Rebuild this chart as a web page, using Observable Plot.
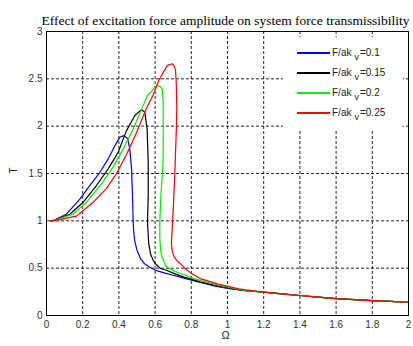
<!DOCTYPE html>
<html><head><meta charset="utf-8">
<script src="https://cdn.jsdelivr.net/npm/d3@7"></script>
<script src="https://cdn.jsdelivr.net/npm/@observablehq/plot@0.6"></script>
<style>
body{margin:0;background:#fff;}
#wrap{position:relative;width:413px;height:346px;}
#legend{position:absolute;left:283px;top:37px;width:120px;height:93px;background:#fff;font-family:"Liberation Sans",Arial,sans-serif;font-size:10px;color:#222;}
.ln{position:absolute;left:14px;width:33px;height:2px;}
.tx{position:absolute;left:49px;line-height:12px;white-space:nowrap;}
.sb{position:relative;top:4px;font-size:9px;margin:0 1px 0 3px;}
</style>
</head><body>
<div id="wrap"></div>
<script>
const title = "Effect of excitation force amplitude on system force transmissibility";
const xLabel = "Ω";
const yLabel = "T";
const xTicks = [0,0.2,0.4,0.6,0.8,1,1.2,1.4,1.6,1.8,2];
const yTicks = [0,0.5,1,1.5,2,2.5,3];
const seriesValues = ["0.1","0.15","0.2","0.25"];
const seriesColors = ["#0000ff","#000000","#00ee00","#ff0000"];

// common tail (all series merge)
const tailOmega = [1.2,1.3,1.4,1.5,1.6,1.7,1.8,1.9,2.0];
const tailT     = [0.246,0.228,0.211,0.194,0.178,0.167,0.158,0.149,0.14];

const omega01 = [0.02,0.037,0.11,0.184,0.239,0.295,0.341,0.378,0.405,0.427,0.448,0.46,0.47,0.475,0.479,0.482,0.488,0.50,0.52,0.54,0.57,0.60,0.65,0.70,0.78,0.85,0.92,1.0,1.1];
const T01     = [1.0,1.003,1.07,1.23,1.373,1.513,1.654,1.795,1.883,1.90,1.873,1.76,1.549,1.27,0.985,0.88,0.78,0.69,0.60,0.55,0.51,0.48,0.45,0.425,0.385,0.35,0.315,0.285,0.262];

const omega015 = [0.02,0.04,0.129,0.203,0.276,0.341,0.396,0.442,0.488,0.525,0.543,0.556,0.562,0.562,0.558,0.562,0.565,0.575,0.59,0.602,0.63,0.667,0.71,0.759,0.85,0.95,1.05,1.1];
const T015     = [1.0,1.005,1.07,1.197,1.373,1.549,1.725,1.953,2.112,2.175,2.147,1.97,1.62,1.27,0.985,0.85,0.757,0.65,0.58,0.546,0.497,0.475,0.44,0.405,0.355,0.31,0.275,0.262];

const omega02 = [0.02,0.04,0.147,0.221,0.304,0.368,0.424,0.479,0.534,0.556,0.575,0.595,0.611,0.627,0.639,0.645,0.645,0.644,0.638,0.632,0.626,0.626,0.63,0.635,0.648,0.657,0.685,0.722,0.76,0.814,0.88,0.95,1.05,1.1];
const T02     = [1.0,1.005,1.07,1.197,1.39,1.567,1.76,1.97,2.217,2.32,2.36,2.40,2.43,2.42,2.39,2.27,1.92,1.62,1.45,1.27,0.985,0.827,0.70,0.63,0.58,0.528,0.49,0.457,0.43,0.39,0.355,0.32,0.28,0.262];

const omega025 = [0.02,0.05,0.166,0.258,0.331,0.387,0.442,0.497,0.552,0.589,0.62,0.645,0.667,0.694,0.705,0.713,0.717,0.72,0.718,0.709,0.70,0.694,0.69,0.695,0.703,0.72,0.74,0.77,0.796,0.85,0.943,1.063,1.1];
const T025     = [1.0,1.005,1.05,1.197,1.34,1.50,1.70,1.93,2.19,2.33,2.48,2.57,2.64,2.66,2.64,2.59,2.45,2.2,2.006,1.496,1.11,0.9,0.757,0.68,0.63,0.58,0.546,0.49,0.45,0.39,0.334,0.282,0.27];

const seriesOmega = [omega01, omega015, omega02, omega025];
const seriesT = [T01, T015, T02, T025];

const rows = [];
seriesValues.forEach((s, i) => {
  const om = seriesOmega[i].concat(tailOmega);
  const tt = seriesT[i].concat(tailT);
  om.forEach((o, j) => rows.push({series: s, omega: o, T: tt[j]}));
});

const chart = Plot.plot({
  width: 413, height: 346,
  marginLeft: 46, marginRight: 5, marginTop: 31, marginBottom: 31,
  style: {fontFamily: "'Liberation Sans', Arial, sans-serif", fontSize: "10px", background: "#fff", overflow: "visible"},
  x: {domain: [0, 2]},
  y: {domain: [0, 3]},
  color: {domain: seriesValues, range: seriesColors},
  marks: [
    Plot.gridX(xTicks, {stroke: "#000", strokeOpacity: 0.85, strokeDasharray: "3,2"}),
    Plot.gridY(yTicks, {stroke: "#000", strokeOpacity: 0.85, strokeDasharray: "3,2"}),
    Plot.axisX({ticks: xTicks, tickSize: 0, tickPadding: 5, tickFormat: d => String(d), label: null, color: "#333"}),
    Plot.axisY({ticks: yTicks, tickSize: 0, tickPadding: 4, tickFormat: d => String(d), label: null, color: "#333"}),
    Plot.line(rows, {x: "omega", y: "T", z: "series", stroke: "series", strokeWidth: 1.2}),
    Plot.frame({stroke: "#000"}),
    Plot.text([title], {text: d => d, frameAnchor: "top", dy: -16, dx: -2, fontFamily: "'Liberation Serif', 'Times New Roman', serif", fontSize: 13.5, fill: "#000"}),
    Plot.text([xLabel], {text: d => d, frameAnchor: "bottom", dy: 23, dx: -2, fontSize: 11, fill: "#222"}),
    Plot.text([yLabel], {text: d => d, frameAnchor: "left", dx: -33, rotate: -90, fontSize: 10, fill: "#222"})
  ]
});
const wrap = document.getElementById("wrap");
wrap.appendChild(chart);

const leg = document.createElement("div");
leg.id = "legend";
seriesValues.forEach((s, i) => {
  const y = 16 + 20 * i;
  const ln = document.createElement("div");
  ln.className = "ln";
  ln.style.top = (y - 1) + "px";
  ln.style.backgroundColor = seriesColors[i];
  leg.appendChild(ln);
  const tx = document.createElement("div");
  tx.className = "tx";
  tx.style.top = (y - 6) + "px";
  tx.innerHTML = 'F/ak<span class="sb">v</span>=' + s;
  leg.appendChild(tx);
});
wrap.appendChild(leg);
</script>
</body></html>
